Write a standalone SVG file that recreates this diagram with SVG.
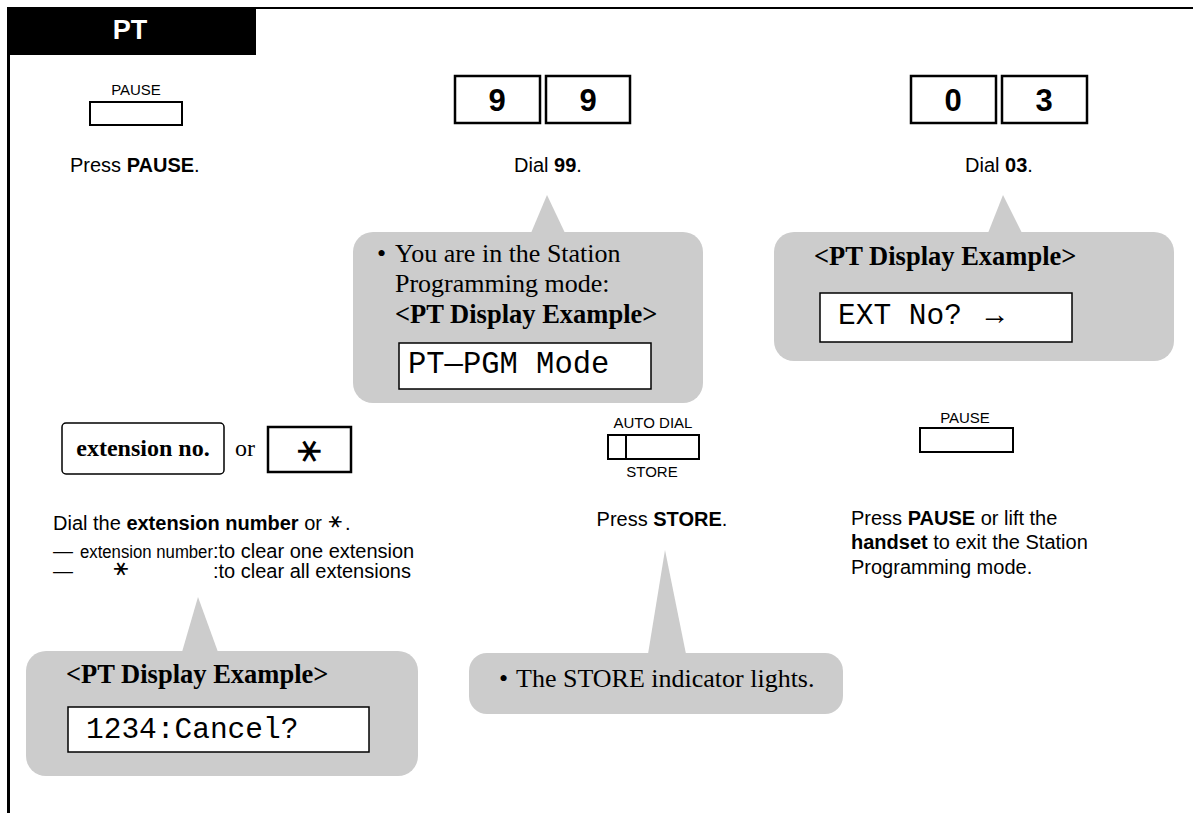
<svg xmlns="http://www.w3.org/2000/svg" width="1193" height="813" viewBox="0 0 1193 813">
<style>
.sans{font-family:"Liberation Sans",Arial,sans-serif;fill:#000}
.serif{font-family:"Liberation Serif","Times New Roman",serif;fill:#000}
.mono{font-family:"Liberation Mono","Courier New",monospace;fill:#000}
.sym{font-family:"DejaVu Sans",sans-serif;fill:#000}
.b{font-weight:bold}
.btn{fill:#fff;stroke:#000;stroke-width:2}
.key{fill:#fff;stroke:#000;stroke-width:2.5}
.callout{fill:#cccccc;stroke:none}
.disp{fill:#fff;stroke:#000;stroke-width:1.5}
.lbl{font-size:15px}
.txt{font-size:20px}
.dig{font-size:31px;font-weight:bold}
.ct{font-size:26px}
.cb{font-size:26.5px;font-weight:bold}
.mt{font-size:29.5px}
</style>
<g id="frame">
<line x1="8" y1="8" x2="1193" y2="8" stroke="#000" stroke-width="2"/>
<line x1="8.5" y1="8" x2="8.5" y2="813" stroke="#000" stroke-width="3"/>
<rect x="7" y="7" width="249" height="48" fill="#000"/>
<text x="130" y="39" text-anchor="middle" class="sans b" style="font-size:27px;fill:#fff">PT</text>
</g>
<g id="connectors"></g>
<g id="step1-pause">
<text x="136" y="95" text-anchor="middle" class="sans lbl">PAUSE</text>
<rect x="90" y="102" width="92" height="23" class="btn"/>
<text x="70" y="172" class="sans txt">Press <tspan class="b">PAUSE</tspan>.</text>
</g>
<g id="step2-dial99">
<rect x="455" y="76" width="85" height="47" class="key"/>
<rect x="546" y="76" width="84" height="47" class="key"/>
<text x="497" y="111" text-anchor="middle" class="sans dig">9</text>
<text x="588" y="111" text-anchor="middle" class="sans dig">9</text>
<text x="548" y="172" text-anchor="middle" class="sans txt">Dial <tspan class="b">99</tspan>.</text>
</g>
<g id="step3-dial03">
<rect x="911" y="76" width="85" height="47" class="key"/>
<rect x="1002" y="76" width="85" height="47" class="key"/>
<text x="953" y="111" text-anchor="middle" class="sans dig">0</text>
<text x="1044" y="111" text-anchor="middle" class="sans dig">3</text>
<text x="999" y="172" text-anchor="middle" class="sans txt">Dial <tspan class="b">03</tspan>.</text>
</g>
<g id="callout-pgm">
<polygon points="547,195 531,233 565,233" class="callout"/>
<rect x="353" y="232" width="350" height="171" rx="20" class="callout"/>
<text x="377" y="262" class="serif ct">•</text>
<text x="395" y="262" class="serif ct">You are in the Station</text>
<text x="395" y="292" class="serif ct">Programming mode:</text>
<text x="395" y="323" class="serif cb">&lt;PT Display Example&gt;</text>
<rect x="399" y="343" width="252" height="46" class="disp"/>
<text x="408" y="373" class="mono" style="font-size:30.5px">PT—PGM Mode</text>
</g>
<g id="callout-ext">
<polygon points="1003,195 988,233 1022,233" class="callout"/>
<rect x="774" y="232" width="400" height="129" rx="20" class="callout"/>
<text x="814" y="265" class="serif cb">&lt;PT Display Example&gt;</text>
<rect x="820" y="293" width="252" height="49" class="disp"/>
<text x="838" y="324" class="mono mt">EXT No? <tspan class="serif" style="font-size:30px">→</tspan></text>
</g>
<g id="step4-ext">
<rect x="62" y="423" width="162" height="51" rx="4" fill="#fff" stroke="#000" stroke-width="1.5"/>
<text x="143" y="456" text-anchor="middle" class="serif b" style="font-size:24px">extension no.</text>
<text x="245" y="456" text-anchor="middle" class="serif" style="font-size:24px">or</text>
<rect x="268" y="427" width="83" height="45" class="key"/>
<text x="310" y="451" text-anchor="middle" dominant-baseline="central" transform="rotate(90 310 451)" class="sym" style="font-size:36px">∗</text>
<text x="53" y="530" class="sans txt">Dial the <tspan class="b">extension number</tspan> or</text>
<text x="336" y="522" text-anchor="middle" dominant-baseline="central" transform="rotate(90 336 522)" class="sym" style="font-size:20px">∗</text>
<text x="345" y="530" class="sans txt">.</text>
<text x="53" y="558" class="sans txt">—</text>
<text x="80" y="558" class="sans" style="font-size:18px" textLength="133" lengthAdjust="spacingAndGlyphs">extension number</text>
<text x="213" y="558" class="sans txt">:to clear one extension</text>
<text x="53" y="578" class="sans txt">—</text>
<text x="121" y="569" text-anchor="middle" dominant-baseline="central" transform="rotate(90 121 569)" class="sym" style="font-size:22px">∗</text>
<text x="213" y="578" class="sans txt">:to clear all extensions</text>
</g>
<g id="step5-store">
<text x="653" y="428" text-anchor="middle" class="sans lbl">AUTO DIAL</text>
<rect x="608" y="435" width="91" height="24" class="btn"/>
<line x1="626" y1="435" x2="626" y2="459" stroke="#000" stroke-width="2"/>
<text x="652" y="477" text-anchor="middle" class="sans lbl">STORE</text>
<text x="662" y="526" text-anchor="middle" class="sans txt">Press <tspan class="b">STORE</tspan>.</text>
</g>
<g id="step6-pause">
<text x="965" y="423" text-anchor="middle" class="sans lbl">PAUSE</text>
<rect x="920" y="428" width="93" height="24" class="btn"/>
<text x="851" y="525" class="sans txt">Press <tspan class="b">PAUSE</tspan> or lift the</text>
<text x="851" y="549" class="sans txt"><tspan class="b">handset</tspan> to exit the Station</text>
<text x="851" y="574" class="sans txt">Programming mode.</text>
</g>
<g id="callout-cancel">
<polygon points="198,597 182,652 218,652" class="callout"/>
<rect x="26" y="651" width="392" height="125" rx="20" class="callout"/>
<text x="66" y="683" class="serif cb">&lt;PT Display Example&gt;</text>
<rect x="68" y="707" width="301" height="45" class="disp"/>
<text x="86" y="738" class="mono mt">1234:Cancel?</text>
</g>
<g id="callout-store">
<polygon points="665,550 648,654 686,654" class="callout"/>
<rect x="469" y="653" width="374" height="61" rx="18" class="callout"/>
<text x="499" y="687" class="serif ct">•</text>
<text x="516" y="687" class="serif ct">The STORE indicator lights.</text>
</g>
</svg>
